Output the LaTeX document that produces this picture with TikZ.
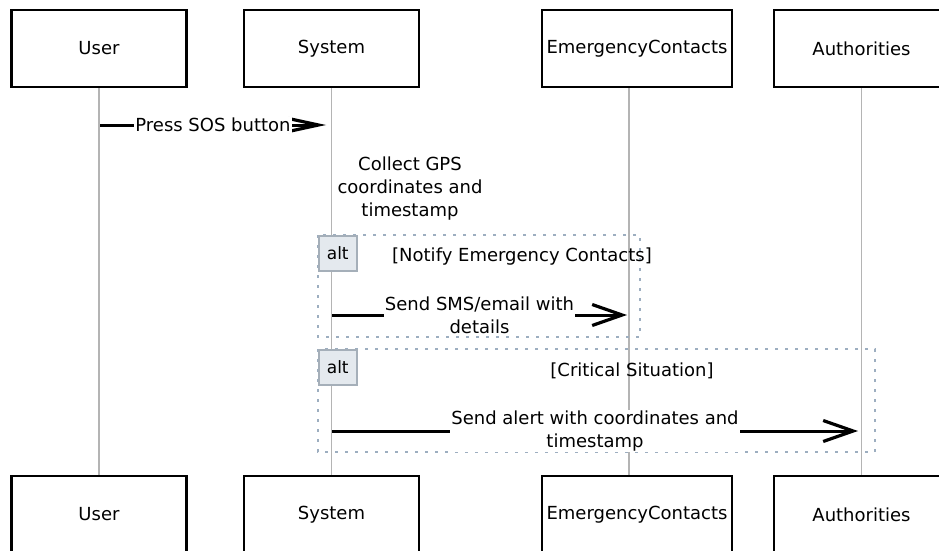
\documentclass[tikz,border=0pt]{standalone}
\usepackage{fontspec}
\setmainfont{DejaVu Sans}
\usetikzlibrary{arrows.meta}

\definecolor{framecol}{HTML}{9DAEC0}
\definecolor{altfill}{HTML}{E4E9EE}
\definecolor{altline}{HTML}{A5AFB9}
\definecolor{lifecol}{HTML}{B4B4B4}

\tikzset{
  actor/.style={draw, line width=2.2pt, fill=white, minimum height=77pt, minimum width=#1, font=\fontsize{18}{23}\selectfont},
  actor/.default=175pt,
  life/.style={draw=lifecol, line width=1.3pt},
  msg/.style={line width=3pt, -{Straight Barb[length=30pt,width=#1,line width=3.2pt]}},
  msg/.default=21pt,
  lbl/.style={fill=white, align=center, inner sep=1pt, font=\fontsize{18}{23}\selectfont},
  txt/.style={align=center, font=\fontsize{18}{23}\selectfont},
  frame/.style={draw=framecol, line width=2.4pt, dash pattern=on 3pt off 7pt},
  altbox/.style={draw=altline, fill=altfill, line width=1.5pt, anchor=north west, minimum width=38pt, minimum height=35pt, inner sep=0pt, font=\fontsize{17}{20}\selectfont},
}

\begin{document}
\begin{tikzpicture}[x=1pt,y=-1pt]
\useasboundingbox (0,0) rectangle (939,551);

\node[actor] (usr) at (99,48.5) {User};
\node[actor] (sys) at (331.5,48.5) {System};
\node[actor=190pt] (ec) at (637,48.5) {EmergencyContacts};
\node[actor] (auth) at (861.5,48.5) {Authorities};

\node[actor] (usrB) at (99,514.5) {User};
\node[actor] (sysB) at (331.5,514.5) {System};
\node[actor=190pt] (ecB) at (637,514.5) {EmergencyContacts};
\node[actor] (authB) at (861.5,514.5) {Authorities};

\draw[life] (usr.south) -- (usrB.north);
\draw[life] (sys.south) -- (sysB.north);
\draw[life] ([xshift=-8pt]ec.south) -- ([xshift=-8pt]ecB.north);
\draw[life] (auth.south) -- (authB.north);

\draw[frame] (318,235) rectangle (640,337);
\draw[frame] (318,349) rectangle (875,452);
\node[altbox] (alt1) at (318,235) {alt};
\node[altbox] (alt2) at (318,349) {alt};
\node[txt] (cond1) at (522,257) {[Notify Emergency Contacts]};
\node[txt] (cond2) at (632,371) {[Critical Situation]};

\node[txt] (note) at (410,189) {Collect GPS\\coordinates and\\timestamp};

\coordinate (m1s) at (100,125);
\coordinate (m1e) at (326,125);
\coordinate (m2s) at (332,315);
\coordinate (m2e) at (627,315);
\coordinate (m3s) at (332,431);
\coordinate (m3e) at (858,431);

\draw[msg=13pt] (m1s) -- node[lbl] {Press SOS button} (m1e);
\draw[msg] (m2s) -- node[lbl] {Send SMS/email with\\details} (m2e);
\draw[msg] (m3s) -- node[lbl] {Send alert with coordinates and\\timestamp} (m3e);

\end{tikzpicture}
\end{document}
